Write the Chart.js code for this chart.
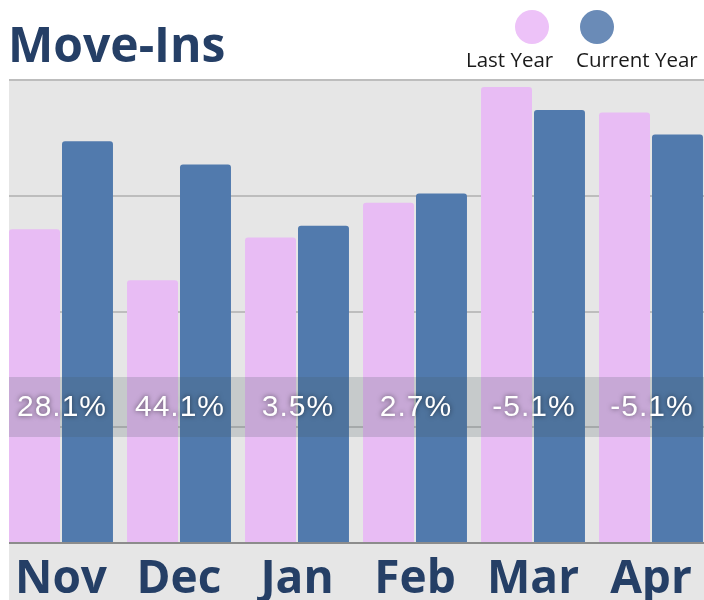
<!DOCTYPE html>
<html>
<head>
<meta charset="utf-8">
<script src="https://cdn.jsdelivr.net/npm/chart.js@4/dist/chart.umd.min.js"></script>
<style>
  html, body { margin: 0; padding: 0; overflow: hidden; background: #ffffff; }
  #wrap { width: 712px; height: 600px; }
</style>
</head>
<body>
<div id="wrap"><canvas id="c" width="712" height="600"></canvas></div>
<script>
const chartTitle = 'Move-Ins';
const categories = ['Nov', 'Dec', 'Jan', 'Feb', 'Mar', 'Apr'];
const seriesNames = ['Last Year', 'Current Year'];
const lastYear = [27.1, 22.7, 26.4, 29.4, 39.4, 37.2];
const currentYear = [34.7, 32.7, 27.4, 30.2, 37.4, 35.3];
const changeLabels = ['28.1%', '44.1%', '3.5%', '2.7%', '-5.1%', '-5.1%'];
const yTicks = [0, 10, 20, 30, 40];

const PINK = '#e8bcf4';
const BLUE = '#517aad';
const LEG_PINK = '#edc2f8';
const LEG_BLUE = '#6a8bb7';
const NAVY = '#253f66';
const PANEL_LEFT = 9;

const decor = {
  id: 'decor',
  beforeDraw(chart) {
    const ctx = chart.ctx;
    const ys = chart.scales.y;
    ctx.save();
    ctx.fillStyle = '#e6e6e6';
    ctx.fillRect(PANEL_LEFT, ys.getPixelForValue(yTicks[yTicks.length - 1]), chart.width - PANEL_LEFT, chart.height);
    ctx.restore();
  },
  beforeDatasetsDraw(chart) {
    const ctx = chart.ctx;
    const ys = chart.scales.y;
    ctx.save();
    ctx.strokeStyle = '#bdbdbd';
    ctx.lineWidth = 2;
    yTicks.forEach(v => {
      if (v === 0) return;
      const y = Math.round(ys.getPixelForValue(v));
      ctx.beginPath();
      ctx.moveTo(PANEL_LEFT, y);
      ctx.lineTo(chart.width, y);
      ctx.stroke();
    });
    ctx.restore();
  },
  afterDatasetsDraw(chart) {
    const ctx = chart.ctx;
    const ys = chart.scales.y;
    const xs = chart.scales.x;
    ctx.save();
    const y0 = Math.round(ys.getPixelForValue(0));
    ctx.strokeStyle = '#8c8c8c';
    ctx.lineWidth = 2;
    ctx.beginPath();
    ctx.moveTo(PANEL_LEFT, y0);
    ctx.lineTo(chart.width, y0);
    ctx.stroke();
    const bandTop = 377, bandH = 60;
    ctx.fillStyle = 'rgba(70,90,95,0.2)';
    ctx.fillRect(PANEL_LEFT, bandTop, chart.width - PANEL_LEFT, bandH);
    ctx.font = '30px "Liberation Sans", Arial, sans-serif';
    try { ctx.letterSpacing = '1px'; } catch (e) {}
    ctx.textAlign = 'center';
    ctx.textBaseline = 'middle';
    ctx.fillStyle = '#ffffff';
    ctx.shadowColor = 'rgba(0,0,0,0.55)';
    ctx.shadowBlur = 5;
    changeLabels.forEach((t, i) => {
      ctx.fillText(t, xs.getPixelForValue(i) + 1, bandTop + bandH / 2 + 1);
    });
    ctx.restore();
  },
  afterDraw(chart) {
    const ctx = chart.ctx;
    ctx.save();
    ctx.fillStyle = NAVY;
    ctx.font = 'bold 48px "Open Sans", sans-serif';
    ctx.textAlign = 'left';
    ctx.textBaseline = 'alphabetic';
    ctx.fillText(chartTitle, 8, 62);
    const legend = [
      { cx: 532, cy: 27, color: LEG_PINK, tx: 466 },
      { cx: 597, cy: 27, color: LEG_BLUE, tx: 576 }
    ];
    ctx.font = '20.5px "Open Sans", sans-serif';
    legend.forEach((l, i) => {
      ctx.fillStyle = l.color;
      ctx.beginPath();
      ctx.arc(l.cx, l.cy, 17, 0, Math.PI * 2);
      ctx.fill();
      ctx.fillStyle = '#1a1a1a';
      ctx.fillText(chart.data.datasets[i].label, l.tx, 67);
    });
    ctx.restore();
  }
};

new Chart(document.getElementById('c'), {
  type: 'bar',
  data: {
    labels: categories,
    datasets: [
      { label: seriesNames[0], data: lastYear, backgroundColor: PINK, borderRadius: 3, borderSkipped: 'start' },
      { label: seriesNames[1], data: currentYear, backgroundColor: BLUE, borderRadius: 3, borderSkipped: 'start' }
    ]
  },
  options: {
    responsive: false,
    devicePixelRatio: 1,
    animation: false,
    events: [],
    categoryPercentage: 0.898,
    barPercentage: 0.962,
    layout: { padding: { left: 2, right: 2, top: 80, bottom: 0 } },
    plugins: { legend: { display: false }, title: { display: false }, tooltip: { enabled: false } },
    scales: {
      x: {
        grid: { display: false },
        border: { display: false },
        ticks: {
          color: NAVY,
          font: { family: '"Open Sans", sans-serif', size: 46, weight: 'bold', lineHeight: 1 },
          padding: 6,
          maxRotation: 0,
          autoSkip: false
        },
        afterFit(scale) { scale.height = 57; }
      },
      y: {
        display: false,
        min: 0,
        max: 40,
        ticks: { stepSize: 10 },
        grid: { display: false }
      }
    }
  },
  plugins: [decor]
});
</script>
</body>
</html>
